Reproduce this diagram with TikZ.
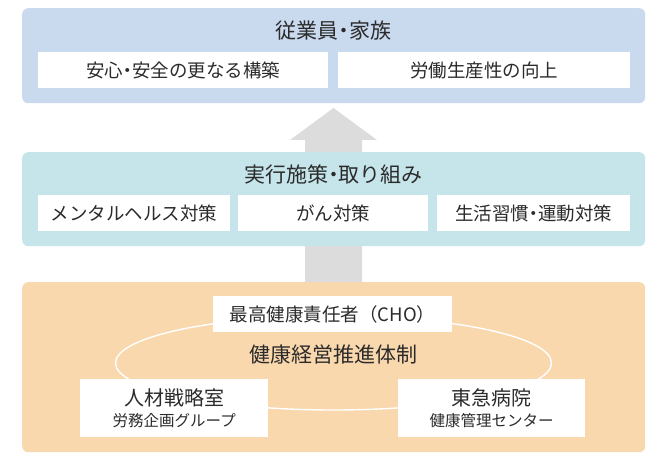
\documentclass[tikz,border=0pt]{standalone}
\usepackage{fontspec}
\setmainfont{Noto Sans CJK JP}
\usetikzlibrary{shapes.geometric}
\definecolor{topfill}{HTML}{C9D9EE}
\definecolor{midfill}{HTML}{C6E5EA}
\definecolor{botfill}{HTML}{FAD8AE}
\definecolor{arrowgray}{HTML}{DCDCDC}
\definecolor{txt}{HTML}{2B2B2B}
\newcommand{\nd}{\kern-0.25em・\kern-0.25em}
\tikzset{
  panel/.style={draw=none, rounded corners=6pt, anchor=north west, inner sep=0pt},
  wbox/.style={fill=white, draw=none, inner sep=0pt, anchor=north west, text=txt, font=\fontsize{18.5}{22}\selectfont},
  ttl/.style={text=txt, font=\fontsize{21}{24}\selectfont, inner sep=0pt},
}
\begin{document}
\begin{tikzpicture}[x=1pt,y=-1pt]
\useasboundingbox (0,0) rectangle (663,454);
% arrow
\fill[arrowgray] (305,282) -- (305,140) -- (290,140) -- (333.5,108) -- (377,140) -- (362,140) -- (362,282) -- cycle;
\coordinate (arrowtip) at (333.5,108);
% panels
\node[panel, fill=topfill, minimum width=623pt, minimum height=95pt] (top) at (22,8) {};
\node[panel, fill=midfill, minimum width=623pt, minimum height=94pt] (mid) at (22,152) {};
\node[panel, fill=botfill, minimum width=623pt, minimum height=170pt] (bot) at (22,282) {};
% top panel content
\node[ttl] (t1) at (333.5,31) {従業員\nd 家族};
\node[wbox, minimum width=290pt, minimum height=36pt] (t1a) at (38,52) {安心\nd 安全の更なる構築};
\node[wbox, minimum width=292pt, minimum height=36pt] (t1b) at (338,52) {労働生産性の向上};
% middle panel content
\node[ttl] (t2) at (333.5,175) {実行施策\nd 取り組み};
\node[wbox, minimum width=192pt, minimum height=36pt] (t2a) at (38,195) {メンタルヘルス対策};
\node[wbox, minimum width=190pt, minimum height=36pt] (t2b) at (238,195) {がん対策};
\node[wbox, minimum width=193pt, minimum height=36pt] (t2c) at (437,195) {生活習慣\nd 運動対策};
% bottom panel content
\node[ellipse, draw=white, line width=1.4pt, minimum width=436pt, minimum height=94pt, inner sep=0pt] (ring) at (333.5,363) {};
\node[wbox, minimum width=239pt, minimum height=36pt] (cho) at (213,296) {最高健康責任者（CHO）};
\node[ttl] (t3) at (333.5,355) {健康経営推進体制};
\node[wbox, minimum width=188pt, minimum height=58pt, align=center] (hr) at (80,379)
  {\fontsize{20}{25}\selectfont 人材戦略室\\[-1pt]\fontsize{15.5}{18}\selectfont 労務企画グループ};
\node[wbox, minimum width=187pt, minimum height=58pt, align=center] (hosp) at (398,379)
  {\fontsize{20}{25}\selectfont 東急病院\\[-1pt]\fontsize{15.5}{18}\selectfont 健康管理センター};
\end{tikzpicture}
\end{document}
